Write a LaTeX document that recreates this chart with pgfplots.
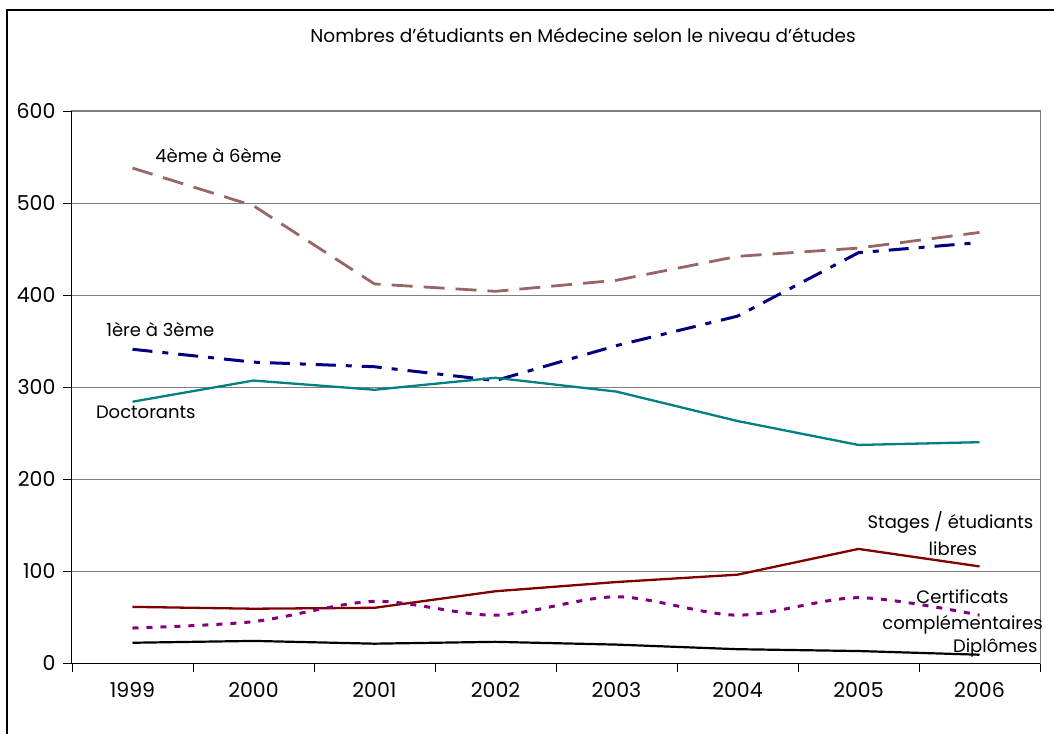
\documentclass[border=0pt]{standalone}
\usepackage{fontspec}
\setmainfont{Poppins}
\usepackage{pgfplots}
\pgfplotsset{compat=1.18}
\definecolor{cRose}{RGB}{153,102,102}
\definecolor{cNavy}{RGB}{0,0,128}
\definecolor{cTeal}{RGB}{0,128,128}
\definecolor{cRed}{RGB}{128,0,0}
\definecolor{cPurple}{RGB}{128,0,128}
\definecolor{cGrid}{RGB}{128,128,128}
\begin{document}
\begin{tikzpicture}[x=1pt,y=1pt]
\useasboundingbox (-72,-70) rectangle (982,663);
\draw[black,line width=1.2pt] (-65,-75) -- (-65,653) -- (990,653);
\begin{axis}[
  at={(0,0)}, anchor=south west,
  scale only axis, width=968pt, height=552pt,
  xmin=-0.5, xmax=7.5, ymin=0, ymax=600,
  ytick={0,100,...,600},
  xtick={-0.5,0.5,...,7.5},
  x tick label as interval,
  xticklabels={1999,2000,2001,2002,2003,2004,2005,2006},
  tick pos=left, tick align=outside,
  major tick length=9pt,
  tick style={black, line width=0.8pt},
  ymajorgrids, grid style={cGrid, line width=0.9pt},
  axis line style={cGrid, line width=1pt},
  /pgf/number format/assume math mode=true,
  ticklabel style={font=\fontsize{20.5}{24}\selectfont},
  xticklabel style={yshift=-7pt},
  yticklabel style={xshift=-4pt},
  clip=false,
  title={Nombres d'étudiants en Médecine selon le niveau d'études},
  title style={font=\fontsize{18.5}{22}\selectfont, at={(0.528,1)}, yshift=70pt, anchor=center},
]
\addplot[cRose, line width=2.8pt, dash pattern=on 21pt off 11pt] coordinates {(0,538) (1,497) (2,412) (3,404) (4,416) (5,442) (6,451) (7,468)};
\addplot[cNavy, line width=3pt, dash pattern=on 20pt off 10pt on 6pt off 10pt] coordinates {(0,341) (1,327) (2,322) (3,307) (4,345) (5,377) (6,446) (7,457)};
\addplot[cTeal, line width=2.3pt] coordinates {(0,284) (1,307) (2,297) (3,310) (4,295) (5,263) (6,237) (7,240)};
\addplot[cRed, line width=2.3pt] coordinates {(0,61) (1,59) (2,60) (3,78) (4,88) (5,96) (6,124) (7,105)};
\addplot[cPurple, line width=3pt, dash pattern=on 6pt off 8pt, smooth] coordinates {(0,38) (1,45) (2,67) (3,52) (4,72) (5,52) (6,71) (7,52)};
\addplot[black, line width=2.2pt] coordinates {(0,22) (1,24) (2,21) (3,23) (4,20) (5,15) (6,13) (7,9)};
\draw[black, line width=1pt] (rel axis cs:0,1) -- (rel axis cs:0,0) -- (rel axis cs:1,0);
\begin{scope}[every node/.style={font=\fontsize{18}{21}\selectfont, inner sep=0pt}]
\node at (axis cs:0.71,552) {4ème à 6ème};
\node at (axis cs:0.23,362) {1ère à 3ème};
\node at (axis cs:0.11,272) {Doctorants};
\node at (axis cs:6.76,153) {Stages / étudiants};
\node at (axis cs:6.78,124) {libres};
\node at (axis cs:6.86,72) {Certificats};
\node at (axis cs:6.86,42) {complémentaires};
\node at (axis cs:7.13,16) {Diplômes};
\end{scope}
\end{axis}
\end{tikzpicture}
\end{document}
